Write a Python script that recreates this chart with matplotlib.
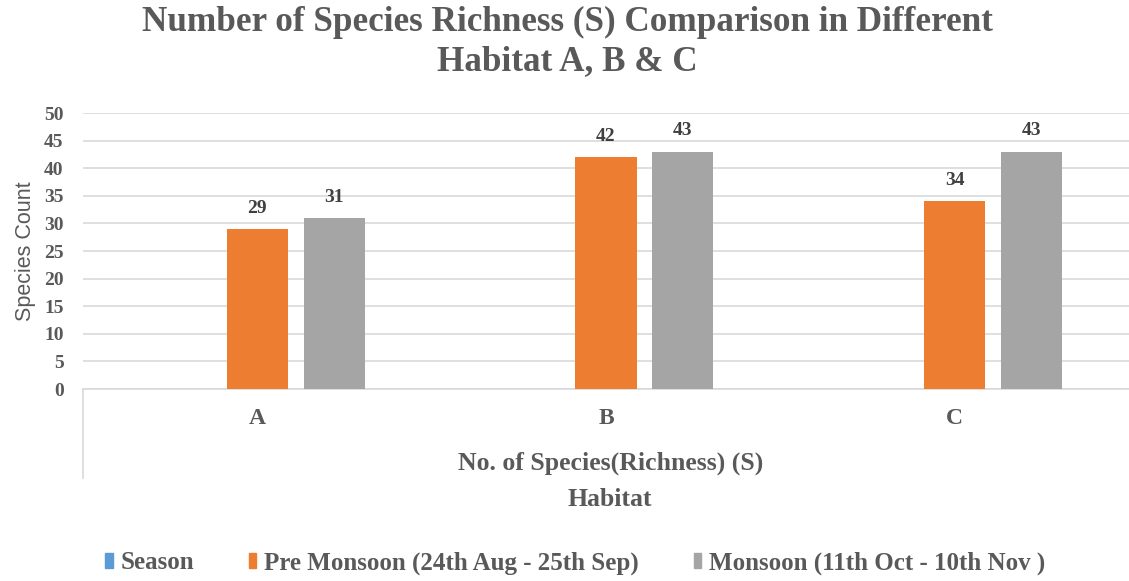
import matplotlib.pyplot as plt
import matplotlib.patches as mpatches
import numpy as np

habitats = ["A", "B", "C"]
series_names = ["Season", "Pre Monsoon (24th Aug - 25th Sep)", "Monsoon (11th Oct - 10th Nov )"]
season = [np.nan, np.nan, np.nan]
pre_monsoon = [29, 42, 34]
monsoon = [31, 43, 43]
colors = ["#5B9BD5", "#ED7D31", "#A5A5A5"]

text_col = "#595959"
grid_col = "#D9D9D9"
serif = ["Liberation Serif", "DejaVu Serif"]

fig = plt.figure(figsize=(11.29, 5.81), dpi=100)
W, H = 1129, 581
ax = fig.add_axes([83 / W, (H - 389) / H, (W - 83) / W, (389 - 113) / H])

x = np.arange(len(habitats))
pitch, width = 0.22, 0.175
for i, (vals, c) in enumerate(zip([season, pre_monsoon, monsoon], colors)):
    pos = x + (i - 1) * pitch
    ax.bar(pos, vals, width=width, color=c, zorder=3)
    for xp, v in zip(pos, vals):
        if not np.isnan(v):
            ax.text(xp, v + 2.2, f"{v:g}", ha="center", va="bottom",
                    fontsize=14, fontweight="bold", family=serif, color="#404040")

ax.set_xlim(-0.5, 2.5)
ax.set_ylim(0, 50)
ax.set_yticks(range(0, 51, 5))
ax.yaxis.grid(True, color=grid_col, linewidth=1.2, zorder=0)
ax.set_axisbelow(True)
for s in ["top", "right", "left"]:
    ax.spines[s].set_visible(False)
ax.spines["bottom"].set_color(grid_col)
ax.spines["bottom"].set_linewidth(1.2)
ax.tick_params(axis="y", length=0, pad=14, labelsize=14, labelcolor=text_col)
ax.tick_params(axis="x", length=0, pad=14, labelsize=17, labelcolor=text_col)
ax.set_xticks(x)
ax.set_xticklabels(habitats)
for lab in ax.get_xticklabels() + ax.get_yticklabels():
    lab.set_family(serif)
    lab.set_fontweight("bold")

# left separator of the multi-level category axis
ax.axvline(-0.5, ymin=-0.322, ymax=0, color=grid_col, linewidth=1.2, clip_on=False)

ax.set_ylabel("Species Count", fontsize=15.5, color=text_col,
              family=["Liberation Sans", "DejaVu Sans"], labelpad=6)

fig.text(611 / W, 1 - 463 / H, "No. of Species(Richness) (S)", ha="center", va="center",
         fontsize=18.5, fontweight="bold", family=serif, color=text_col)
fig.text(610 / W, 1 - 500 / H, "Habitat", ha="center", va="center",
         fontsize=18.5, fontweight="bold", family=serif, color=text_col)

fig.text(567 / W, 1 - 22 / H, "Number of Species Richness (S) Comparison in Different",
         ha="center", va="center", fontsize=25.3, fontweight="bold", family=serif, color=text_col)
fig.text(567 / W, 1 - 62 / H, "Habitat A, B & C",
         ha="center", va="center", fontsize=25.3, fontweight="bold", family=serif, color=text_col)

handles = [mpatches.Patch(color=c, label=n) for c, n in zip(colors, series_names)]
leg = fig.legend(handles=handles, loc="center", bbox_to_anchor=(575 / W, 1 - 563 / H),
                 ncol=3, frameon=False, handlelength=0.3, handleheight=0.6,
                 handletextpad=0.3, columnspacing=2.2,
                 prop={"family": serif, "weight": "bold", "size": 18})
for t in leg.get_texts():
    t.set_color(text_col)

fig.savefig("out.png", dpi=100)
